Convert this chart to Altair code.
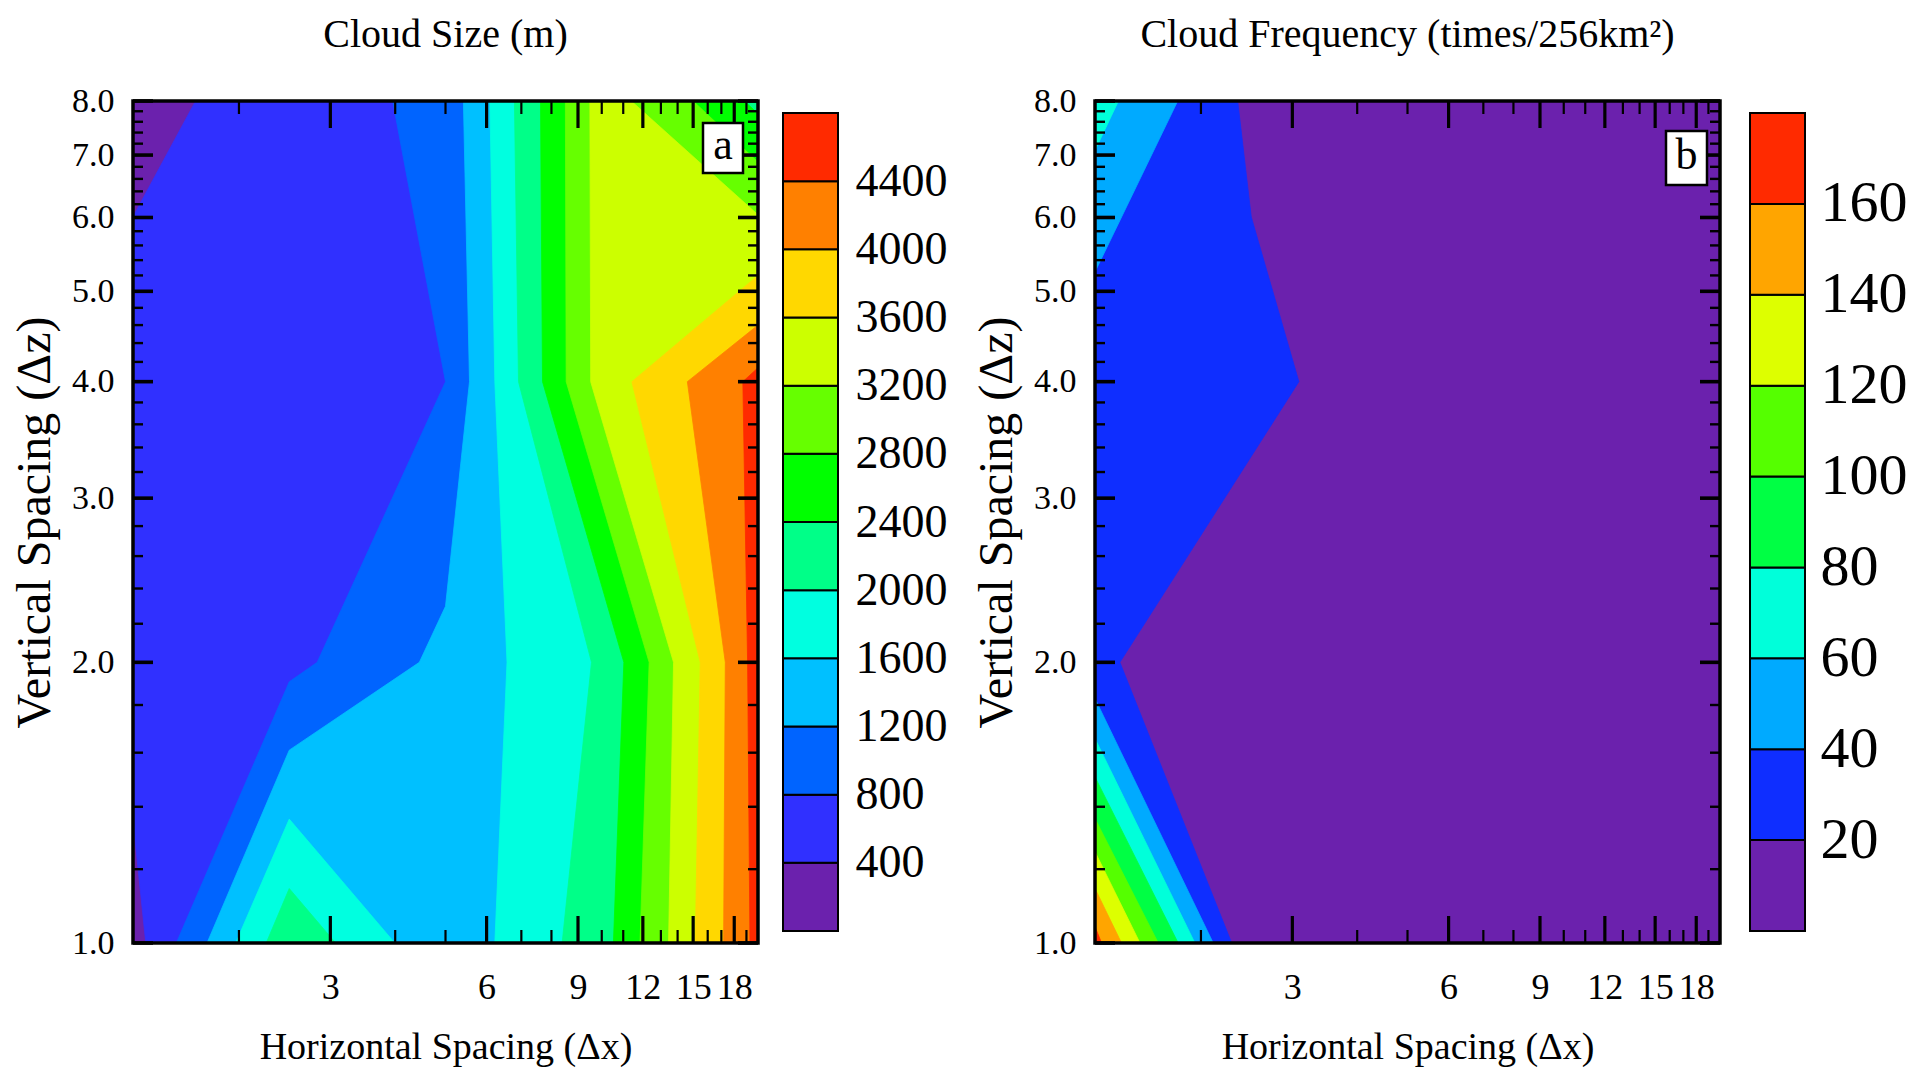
import altair as alt
import pandas as pd

FONT = "Liberation Serif"

# ---------------- axes ----------------
DX_DOMAIN = [1.25, 20]
DZ_DOMAIN = [1, 8]
X_MAJOR = [3, 6, 9, 12, 15, 18]
X_MINOR = [2, 4, 5, 7, 8, 10, 11, 13, 14, 16, 17, 19]
Y_MAJOR = [1, 2, 3, 4, 5, 6, 7, 8]
Y_MINOR = [1.2, 1.4, 1.6, 1.8, 2.2, 2.4, 2.6, 2.8, 3.2, 3.4, 3.6, 3.8,
           4.2, 4.4, 4.6, 4.8, 5.2, 5.4, 5.6, 5.8, 6.2, 6.4, 6.6, 6.8,
           7.2, 7.4, 7.6, 7.8]
X_TITLE = "Horizontal Spacing (Δx)"
Y_TITLE = "Vertical Spacing (Δz)"

# ---------------- panel a : cloud size ----------------
SIZE_TITLE = "Cloud Size (m)"
SIZE_LEVELS = [400, 800, 1200, 1600, 2000, 2400, 2800, 3200, 3600, 4000, 4400]
SIZE_COLORS = ["#6B21AD", "#3030FF", "#0064FF", "#00C0FF", "#00FFE0", "#00FF88",
               "#00FF00", "#66FF00", "#CCFF00", "#FFD800", "#FF8000", "#FF2A00"]
# regions where size >= level, outlined by (dx, dz) points
SIZE_GE_400 = [[(1.650, 8), (20, 8), (20, 1), (1.323, 1), (1.25, 1.354), (1.25, 6.01)]]
SIZE_GE_800 = [[(3.956, 8), (20, 8), (20, 1), (1.515, 1), (2.5, 1.906), (2.830, 2), (5.0, 4)]]
SIZE_GE_1200 = [[(5.413, 8), (20, 8), (20, 1), (1.736, 1), (2.5, 1.61), (4.452, 2),
                 (5.0, 2.297), (5.562, 4)]]
SIZE_GE_1600 = [[(6.088, 8), (20, 8), (20, 1), (6.223, 1), (6.569, 2), (6.223, 4)],
                [(1.971, 1), (2.5, 1.358), (3.993, 1)]]
SIZE_GE_2000 = [[(6.788, 8), (20, 8), (20, 1), (8.388, 1), (9.556, 2), (6.912, 4)],
                [(2.257, 1), (2.5, 1.144), (3.071, 1)]]
SIZE_GE_2400 = [[(7.621, 8), (18.83, 8), (20, 7.75), (20, 1), (10.53, 1), (11.03, 2), (7.689, 4)]]
SIZE_GE_2800 = [[(8.510, 8), (15.0, 8), (20, 6.88), (20, 1), (11.85, 1), (12.34, 2), (8.540, 4)]]
SIZE_GE_3200 = [[(9.487, 8), (11.40, 8), (20, 6.04), (20, 1), (13.45, 1), (13.75, 2), (9.521, 4)]]
SIZE_GE_3600 = [[(11.43, 4), (20, 5.20), (20, 1), (15.14, 1), (15.48, 2)]]
SIZE_GE_4000 = [[(14.62, 4), (20, 4.60), (20, 1), (17.17, 1), (17.30, 2)]]
SIZE_GE_4400 = [[(18.70, 4), (20, 4.14), (20, 1), (19.30, 1), (19.10, 2)]]
SIZE_REGIONS = [SIZE_GE_400, SIZE_GE_800, SIZE_GE_1200, SIZE_GE_1600, SIZE_GE_2000,
                SIZE_GE_2400, SIZE_GE_2800, SIZE_GE_3200, SIZE_GE_3600, SIZE_GE_4000,
                SIZE_GE_4400]

# ---------------- panel b : cloud frequency ----------------
FREQ_TITLE = "Cloud Frequency (times/256km²)"
FREQ_LEVELS = [20, 40, 60, 80, 100, 120, 140, 160]
FREQ_COLORS = ["#6B21AD", "#0F2EFF", "#00AAFF", "#00FFDA", "#00FF44", "#55FF00",
               "#DDFF00", "#FFA500", "#FF2A00"]
FREQ_GE_20 = [[(1.25, 8), (2.354, 8), (2.5, 6.008), (3.088, 4), (1.396, 2), (2.292, 1), (1.25, 1)]]
FREQ_GE_40 = [[(1.25, 8), (1.804, 8), (1.25, 5.245)], [(1.25, 1.829), (2.112, 1), (1.25, 1)]]
FREQ_GE_60 = [[(1.25, 8), (1.387, 8), (1.25, 7.08)], [(1.25, 1.657), (1.947, 1), (1.25, 1)]]
FREQ_GE_80 = [[(1.25, 1.507), (1.808, 1), (1.25, 1)]]
FREQ_GE_100 = [[(1.25, 1.360), (1.655, 1), (1.25, 1)]]
FREQ_GE_120 = [[(1.25, 1.253), (1.526, 1), (1.25, 1)]]
FREQ_GE_140 = [[(1.25, 1.144), (1.406, 1), (1.25, 1)]]
FREQ_GE_160 = [[(1.25, 1.041), (1.287, 1), (1.25, 1)]]
FREQ_REGIONS = [FREQ_GE_20, FREQ_GE_40, FREQ_GE_60, FREQ_GE_80, FREQ_GE_100,
                FREQ_GE_120, FREQ_GE_140, FREQ_GE_160]

# ---------------- layout (pixels) ----------------
W_ALL = 1587
H = 842
PW = 625
X0_A = 0
X0_B = 962


def regions_frame(regions):
    rows = []
    for k, polys in enumerate(regions):
        for p, poly in enumerate(polys):
            pts = list(poly) + [poly[0]]
            for i, (dx, dz) in enumerate(pts):
                rows.append({"k": k, "p": p, "i": i, "dx": dx, "dz": dz})
    return pd.DataFrame(rows)


def panel(x0, colors, regions, title, letter, box):
    sx = alt.Scale(type="log", domain=DX_DOMAIN, range=[x0, x0 + PW], nice=False)
    sy = alt.Scale(type="log", domain=DZ_DOMAIN, nice=False)
    xax = alt.Axis(orient="bottom", values=X_MAJOR, format="d", ticks=False, domain=False,
                   grid=False, labelFont=FONT, labelFontSize=36, labelColor="black",
                   labelPadding=27, labelOverlap=False, labelFlush=False,
                   title=X_TITLE, titleFont=FONT, titleFontSize=38, titleFontWeight="normal",
                   titleColor="black", titleY=104, titleBaseline="middle")
    yax = alt.Axis(orient="left", offset=-x0, values=Y_MAJOR, format=".1f", ticks=False,
                   domain=False, grid=False, labelFont=FONT, labelFontSize=34,
                   labelColor="black", labelPadding=19, labelOverlap=False,
                   title=Y_TITLE, titleFont=FONT, titleFontSize=48, titleFontWeight="normal",
                   titleColor="black", titleX=-98, titleBaseline="middle")

    def X(f):
        return alt.X(f, type="quantitative", scale=sx, axis=xax)

    def Y(f):
        return alt.Y(f, type="quantitative", scale=sy, axis=yax)

    dom = pd.DataFrame({"dx": [DX_DOMAIN[0]], "dx2": [DX_DOMAIN[1]],
                        "dz": [DZ_DOMAIN[0]], "dz2": [DZ_DOMAIN[1]]})
    layers = [alt.Chart(dom).mark_rect(color=colors[0]).encode(
        x=X("dx"), x2="dx2", y=Y("dz"), y2="dz2")]

    df = regions_frame(regions)
    for k in range(len(regions)):
        c = colors[k + 1]
        layers.append(
            alt.Chart(df).transform_filter(alt.datum.k == k)
            .mark_line(fill=c, stroke=c, strokeWidth=0.8, strokeJoin="round", interpolate="linear")
            .encode(x=X("dx"), y=Y("dz"), order=alt.Order("i:Q"), detail="p:N")
        )

    for vals, L, sw in [(X_MAJOR, 27, 3.2), (X_MINOR, 13, 2.2)]:
        d = pd.DataFrame({"v": vals})
        layers.append(alt.Chart(d).mark_rule(color="black", strokeWidth=sw).encode(
            x=X("v"), y=alt.value(H), y2=alt.value(H - L)))
        layers.append(alt.Chart(d).mark_rule(color="black", strokeWidth=sw).encode(
            x=X("v"), y=alt.value(0), y2=alt.value(L)))
    for vals, L, sw in [(Y_MAJOR, 20, 3.6), (Y_MINOR, 10, 2.4)]:
        d = pd.DataFrame({"v": vals})
        layers.append(alt.Chart(d).mark_rule(color="black", strokeWidth=sw).encode(
            y=Y("v"), x=alt.value(x0), x2=alt.value(x0 + L)))
        layers.append(alt.Chart(d).mark_rule(color="black", strokeWidth=sw).encode(
            y=Y("v"), x=alt.value(x0 + PW - L), x2=alt.value(x0 + PW)))

    layers.append(alt.Chart(dom).mark_rect(fill="transparent", stroke="black", strokeWidth=3.5)
                  .encode(x=X("dx"), x2="dx2", y=Y("dz"), y2="dz2"))

    bx0, by0, bx1, by1 = box
    lab = pd.DataFrame({"t": [letter]})
    layers.append(alt.Chart(lab).mark_rect(fill="white", stroke="black", strokeWidth=2.5).encode(
        x=alt.value(bx0), x2=alt.value(bx1), y=alt.value(by0), y2=alt.value(by1)))
    layers.append(alt.Chart(lab).mark_text(font=FONT, fontSize=44, color="black",
                                           align="center", baseline="middle").encode(
        x=alt.value((bx0 + bx1) / 2), y=alt.value((by0 + by1) / 2 - 2), text="t:N"))

    tt = pd.DataFrame({"t": [title]})
    layers.append(alt.Chart(tt).mark_text(font=FONT, fontSize=40, color="black",
                                          align="center", baseline="middle").encode(
        x=alt.value(x0 + PW / 2), y=alt.value(-66), text="t:N"))
    return alt.layer(*layers)


def colorbar(levels, colors, top, x_left, width, y_top, y_bot, font_size, pad):
    cb = pd.DataFrame({"lo": [0] + levels, "hi": levels + [top], "c": colors})
    ax = alt.Axis(orient="right", offset=x_left + width - W_ALL, values=levels, format="d",
                  ticks=False, domain=False, grid=False, labelFont=FONT,
                  labelFontSize=font_size, labelColor="black", labelPadding=pad,
                  labelOverlap=False, labelFlush=False, title=None)
    return alt.Chart(cb).mark_rect(stroke="black", strokeWidth=2).encode(
        x=alt.value(x_left), x2=alt.value(x_left + width),
        y=alt.Y("lo:Q", scale=alt.Scale(domain=[0, top], range=[y_bot, y_top], nice=False, zero=False),
                axis=ax),
        y2="hi:Q",
        fill=alt.Fill("c:N", scale=None),
    )


panel_a = panel(X0_A, SIZE_COLORS, SIZE_REGIONS, SIZE_TITLE, "a", (570, 22, 610, 72))
panel_b = panel(X0_B, FREQ_COLORS, FREQ_REGIONS, FREQ_TITLE, "b", (1533, 30, 1574, 84))
cbar_a = colorbar(SIZE_LEVELS, SIZE_COLORS, 4800, 650, 55, 12, 830, 46, 17)
cbar_b = colorbar(FREQ_LEVELS, FREQ_COLORS, 180, 1617, 55, 12, 830, 58, 15)

chart = (
    alt.layer(panel_a, cbar_a, panel_b, cbar_b)
    .resolve_scale(x="independent", y="independent")
    .properties(width=W_ALL, height=H,
                autosize=alt.AutoSizeParams(type="none"),
                padding={"left": 125, "top": 93, "right": 193, "bottom": 129})
    .configure(font=FONT)
    .configure_view(strokeWidth=0)
)

chart.save("out.html", embed_options={"renderer": "svg", "actions": False})
